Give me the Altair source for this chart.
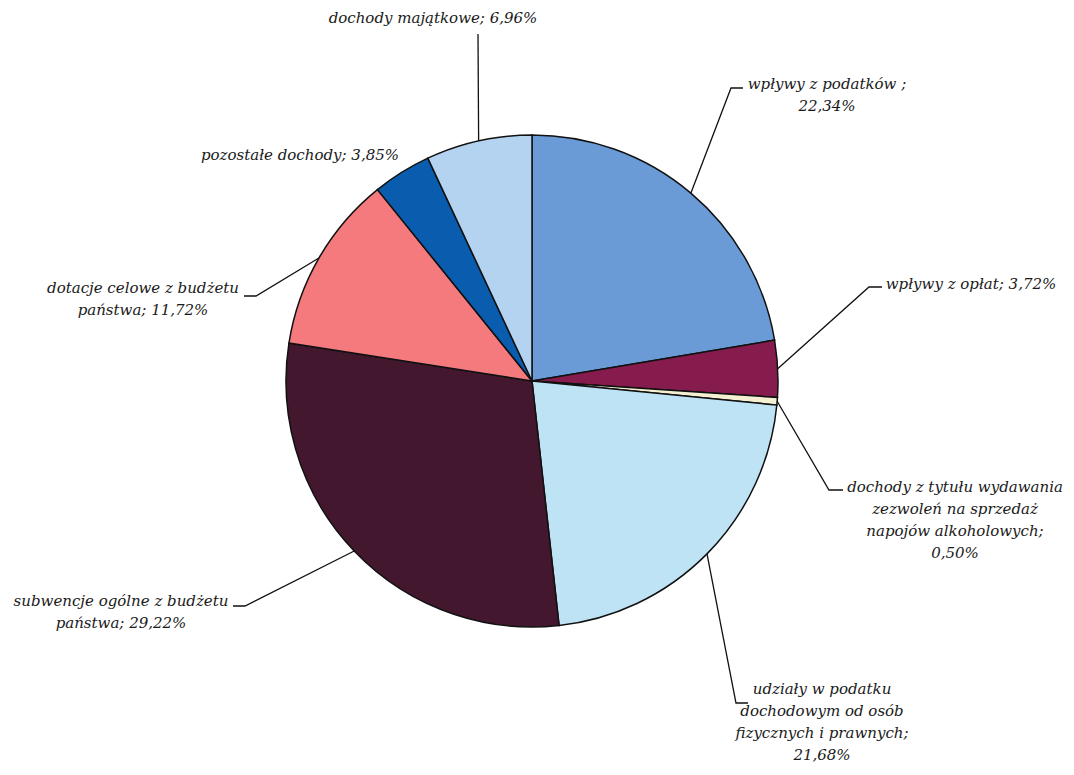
import altair as alt
import numpy as np
import pandas as pd

# ---- data ----
categories = [
    "wpływy z podatków",
    "wpływy z opłat",
    "dochody z tytułu wydawania zezwoleń na sprzedaż napojów alkoholowych",
    "udziały w podatku dochodowym od osób fizycznych i prawnych",
    "subwencje ogólne z budżetu państwa",
    "dotacje celowe z budżetu państwa",
    "pozostałe dochody",
    "dochody majątkowe",
]
values = [22.34, 3.72, 0.50, 21.68, 29.22, 11.72, 3.85, 6.96]
label_texts = [
    "wpływy z podatków ;\n22,34%",
    "wpływy z opłat; 3,72%",
    "dochody z tytułu wydawania\nzezwoleń na sprzedaż\nnapojów alkoholowych;\n0,50%",
    "udziały w podatku\ndochodowym od osób\nfizycznych i prawnych;\n21,68%",
    "subwencje ogólne z budżetu\npaństwa; 29,22%",
    "dotacje celowe z budżetu\npaństwa; 11,72%",
    "pozostałe dochody; 3,85%",
    "dochody majątkowe; 6,96%",
]
colors = ["#6A9BD6", "#861C4E", "#F5F0D2", "#BDE3F5", "#43182F", "#F47A7E", "#0A5CAF", "#B3D3F0"]

# ---- layout (page pixel coordinates) ----
W, H = 1058, 759
CX, CY, R = 532, 381, 246
label_pos = [(827, 86), (971, 286), (955, 489), (822, 691), (121, 603), (143, 290), (300, 157), (433, 20)]
elbows = [
    [(731, 88), (743, 88)],
    [(869, 287), (882, 287)],
    [(829, 490), (843, 490)],
    [(736, 703), (748, 703)],
    [(245, 606), (233, 606)],
    [(256, 296), (244, 296)],
    [],
    [(478, 34)],
]
FS = 15

df = pd.DataFrame({"category": categories, "value": values, "idx": range(len(values))})

vals = np.array(values)
mid = (np.cumsum(vals) - vals / 2) / vals.sum() * 2 * np.pi
rows = []
for i, cat in enumerate(categories):
    if not elbows[i]:
        continue
    sx = CX + R * np.sin(mid[i])
    sy = CY - R * np.cos(mid[i])
    pts = [(sx, sy)] + elbows[i]
    for k, (px, py) in enumerate(pts):
        rows.append({"category": cat, "k": k, "x": px, "y": py})
lines_df = pd.DataFrame(rows)

labels_df = pd.DataFrame({
    "text": label_texts,
    "x": [p[0] for p in label_pos],
    "y": [p[1] - FS * 0.62 for p in label_pos],
})

xs = alt.Scale(domain=[8, 8 + W], nice=False, zero=False)
ys = alt.Scale(domain=[8, 8 + H], nice=False, zero=False, reverse=True)

pie = alt.Chart(df).mark_arc(radius=R, stroke="#111111", strokeWidth=1.5).encode(
    theta=alt.Theta("value:Q", stack=True),
    color=alt.Color("category:N", scale=alt.Scale(domain=categories, range=colors), legend=None),
    order=alt.Order("idx:Q"),
    x=alt.X(datum=CX, scale=xs, axis=None),
    y=alt.Y(datum=CY, scale=ys, axis=None),
)

leaders = alt.Chart(lines_df).mark_line(color="#111111", strokeWidth=1.3).encode(
    x=alt.X("x:Q", scale=xs, axis=None),
    y=alt.Y("y:Q", scale=ys, axis=None),
    detail="category:N",
    order="k:Q",
)

texts = alt.Chart(labels_df).mark_text(
    font="DejaVu Serif", fontStyle="italic", fontSize=FS, align="center",
    baseline="top", lineBreak="\n", lineHeight=22, color="#1a1a1a",
).encode(
    x=alt.X("x:Q", scale=xs, axis=None),
    y=alt.Y("y:Q", scale=ys, axis=None),
    text="text:N",
)

chart = alt.layer(pie, leaders, texts).properties(
    width=W, height=H, padding=0, autosize=alt.AutoSizeParams(type="none"),
    background="white",
).configure_view(stroke=None)

chart.save("out.html", embed_options={"renderer": "svg", "actions": False})
